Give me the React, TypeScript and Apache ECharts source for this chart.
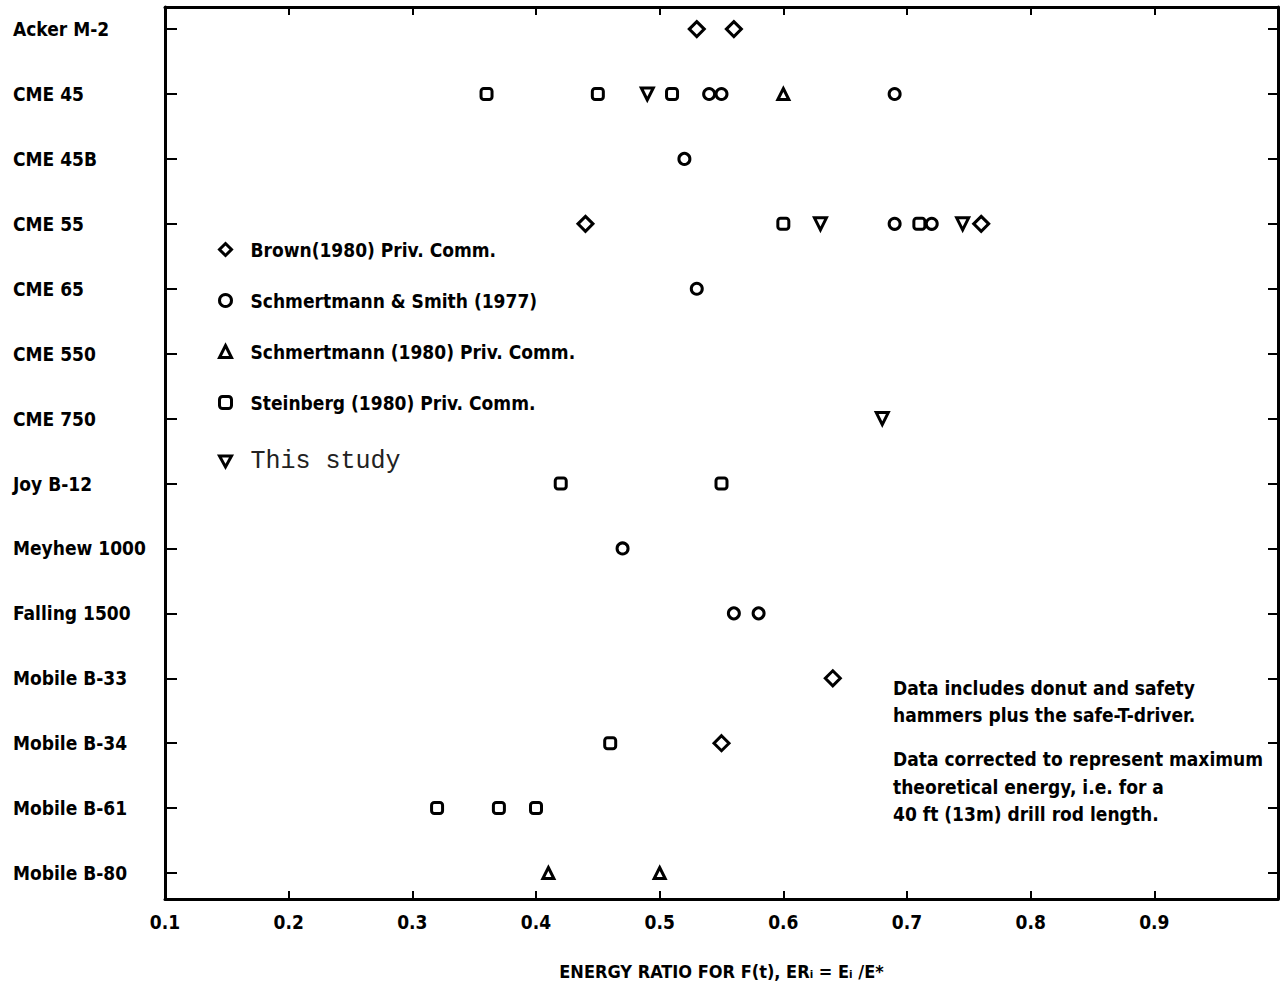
import React, { useEffect, useRef } from "react";
import * as echarts from "echarts";

const categories = [
  "Acker M-2",
  "CME 45",
  "CME 45B",
  "CME 55",
  "CME 65",
  "CME 550",
  "CME 750",
  "Joy B-12",
  "Meyhew 1000",
  "Falling 1500",
  "Mobile B-33",
  "Mobile B-34",
  "Mobile B-61",
  "Mobile B-80",
];

const xTicks = [0.1, 0.2, 0.3, 0.4, 0.5, 0.6, 0.7, 0.8, 0.9];

const brown: [number, string][] = [
  [0.53, "Acker M-2"], [0.56, "Acker M-2"],
  [0.44, "CME 55"], [0.76, "CME 55"],
  [0.64, "Mobile B-33"],
  [0.55, "Mobile B-34"],
];
const schmertmannSmith: [number, string][] = [
  [0.54, "CME 45"], [0.55, "CME 45"], [0.69, "CME 45"],
  [0.52, "CME 45B"],
  [0.69, "CME 55"], [0.72, "CME 55"],
  [0.53, "CME 65"],
  [0.47, "Meyhew 1000"],
  [0.56, "Falling 1500"], [0.58, "Falling 1500"],
];
const schmertmann1980: [number, string][] = [
  [0.6, "CME 45"],
  [0.41, "Mobile B-80"], [0.5, "Mobile B-80"],
];
const steinberg: [number, string][] = [
  [0.36, "CME 45"], [0.45, "CME 45"], [0.51, "CME 45"],
  [0.6, "CME 55"], [0.71, "CME 55"],
  [0.42, "Joy B-12"], [0.55, "Joy B-12"],
  [0.46, "Mobile B-34"],
  [0.32, "Mobile B-61"], [0.37, "Mobile B-61"], [0.4, "Mobile B-61"],
];
const thisStudy: [number, string][] = [
  [0.49, "CME 45"],
  [0.63, "CME 55"], [0.745, "CME 55"],
  [0.68, "CME 750"],
];

const seriesNames = [
  "Brown(1980) Priv. Comm.",
  "Schmertmann & Smith (1977)",
  "Schmertmann (1980) Priv. Comm.",
  "Steinberg (1980) Priv. Comm.",
  "This study",
];

const notes = [
  "Data includes donut and safety",
  "hammers plus the safe-T-driver.",
  "Data corrected to represent maximum",
  "theoretical energy, i.e. for a",
  "40 ft (13m) drill rod length.",
];

const FONT = '"DejaVu Sans Condensed", "Liberation Sans Narrow", "DejaVu Sans", sans-serif';
const MONO = '"Liberation Mono", "DejaVu Sans Mono", monospace';
const catIdx = categories.map((_, i) => i);

function toPts(arr: [number, string][]) {
  return arr.map(([v, c]) => [v, categories.indexOf(c)]);
}

export default function App() {
  const ref = useRef<HTMLDivElement>(null);
  useEffect(() => {
    if (!ref.current) return;
    const chart = echarts.init(ref.current, null, { renderer: "svg" });
    const mk = (name: string, data: [number, string][], symbol: string, size: number, rotate = 0) => ({
      type: "scatter",
      name,
      data: toPts(data),
      symbol,
      symbolSize: size,
      symbolRotate: rotate,
      itemStyle: { color: "#fff", borderColor: "#000", borderWidth: 3, opacity: 1 },
      clip: false,
    });
    const xBase = {
      type: "value",
      min: 0.1,
      max: 1.0,
      interval: 0.1,
      splitLine: { show: false },
      axisLine: { show: true, onZero: false, lineStyle: { color: "#000", width: 3 } },
      axisTick: { show: true, inside: true, length: 8, lineStyle: { color: "#000", width: 2 } },
    };
    const yBase = {
      type: "value",
      inverse: true,
      min: -0.34,
      max: 13.4,
      splitLine: { show: false },
      axisLine: { show: true, onZero: false, lineStyle: { color: "#000", width: 3 } },
    };
    const legendCommon = {
      orient: "vertical",
      left: 213,
      itemWidth: 12,
      itemHeight: 12,
      selectedMode: false,
      itemStyle: { color: "#fff", borderColor: "#000", borderWidth: 3 },
      formatter: (n: string) => `{s|}${n}`,
    };
    chart.setOption({
      animation: false,
      backgroundColor: "#fff",
      grid: { left: 165, right: 6, top: 7, bottom: 90 },
      xAxis: [
        {
          ...xBase,
          position: "bottom",
          name: "ENERGY RATIO FOR F(t), ERᵢ = Eᵢ /E*",
          nameLocation: "middle",
          nameGap: 63,
          nameTextStyle: { fontFamily: FONT, fontWeight: "bold", fontSize: 18, color: "#000" },
          axisLabel: {
            show: true,
            margin: 13,
            fontFamily: FONT,
            fontWeight: "bold",
            fontSize: 19,
            color: "#000",
            customValues: xTicks,
            formatter: (v: number) => v.toFixed(1),
          },
        },
        {
          ...xBase,
          position: "top",
          axisLabel: { show: false },
        },
      ],
      yAxis: [
        {
          ...yBase,
          position: "left",
          axisTick: { show: true, inside: true, length: 12, customValues: catIdx, lineStyle: { color: "#000", width: 2 } },
          axisLabel: {
            show: true,
            customValues: catIdx,
            align: "left",
            margin: 152,
            fontFamily: FONT,
            fontWeight: "bold",
            fontSize: 19,
            color: "#000",
            formatter: (v: number) => categories[Math.round(v)] ?? "",
          },
        },
        {
          ...yBase,
          position: "right",
          axisTick: { show: true, inside: true, length: 10, customValues: catIdx, lineStyle: { color: "#000", width: 2 } },
          axisLabel: { show: false },
        },
      ],
      legend: [
        {
          ...legendCommon,
          data: seriesNames.slice(0, 4),
          top: 235,
          itemGap: 32,
          textStyle: { fontFamily: FONT, fontWeight: "bold", fontSize: 19, color: "#000", rich: { s: { width: 14 } } },
        },
        {
          ...legendCommon,
          data: [{ name: seriesNames[4], icon: "path://M0,0L10,0L5,9Z" }],
          top: 444,
          textStyle: { fontFamily: MONO, fontSize: 25, color: "#222", rich: { s: { width: 14 } } },
        },
      ],
      graphic: notes.map((t, i) => ({
        type: "text",
        left: 893,
        top: [678, 705, 749, 777, 804][i],
        style: { text: t, fontFamily: FONT, fontWeight: "bold", fontSize: 19, fill: "#000" },
      })),
      series: [
        mk(seriesNames[0], brown, "diamond", 15),
        mk(seriesNames[1], schmertmannSmith, "circle", 11),
        mk(seriesNames[2], schmertmann1980, "triangle", 11),
        mk(seriesNames[3], steinberg, "roundRect", 11),
        mk(seriesNames[4], thisStudy, "triangle", 12, 180),
      ],
    });
    return () => chart.dispose();
  }, []);
  return <div ref={ref} style={{ position: "fixed", left: 0, top: 0, width: 1284, height: 989 }} />;
}
